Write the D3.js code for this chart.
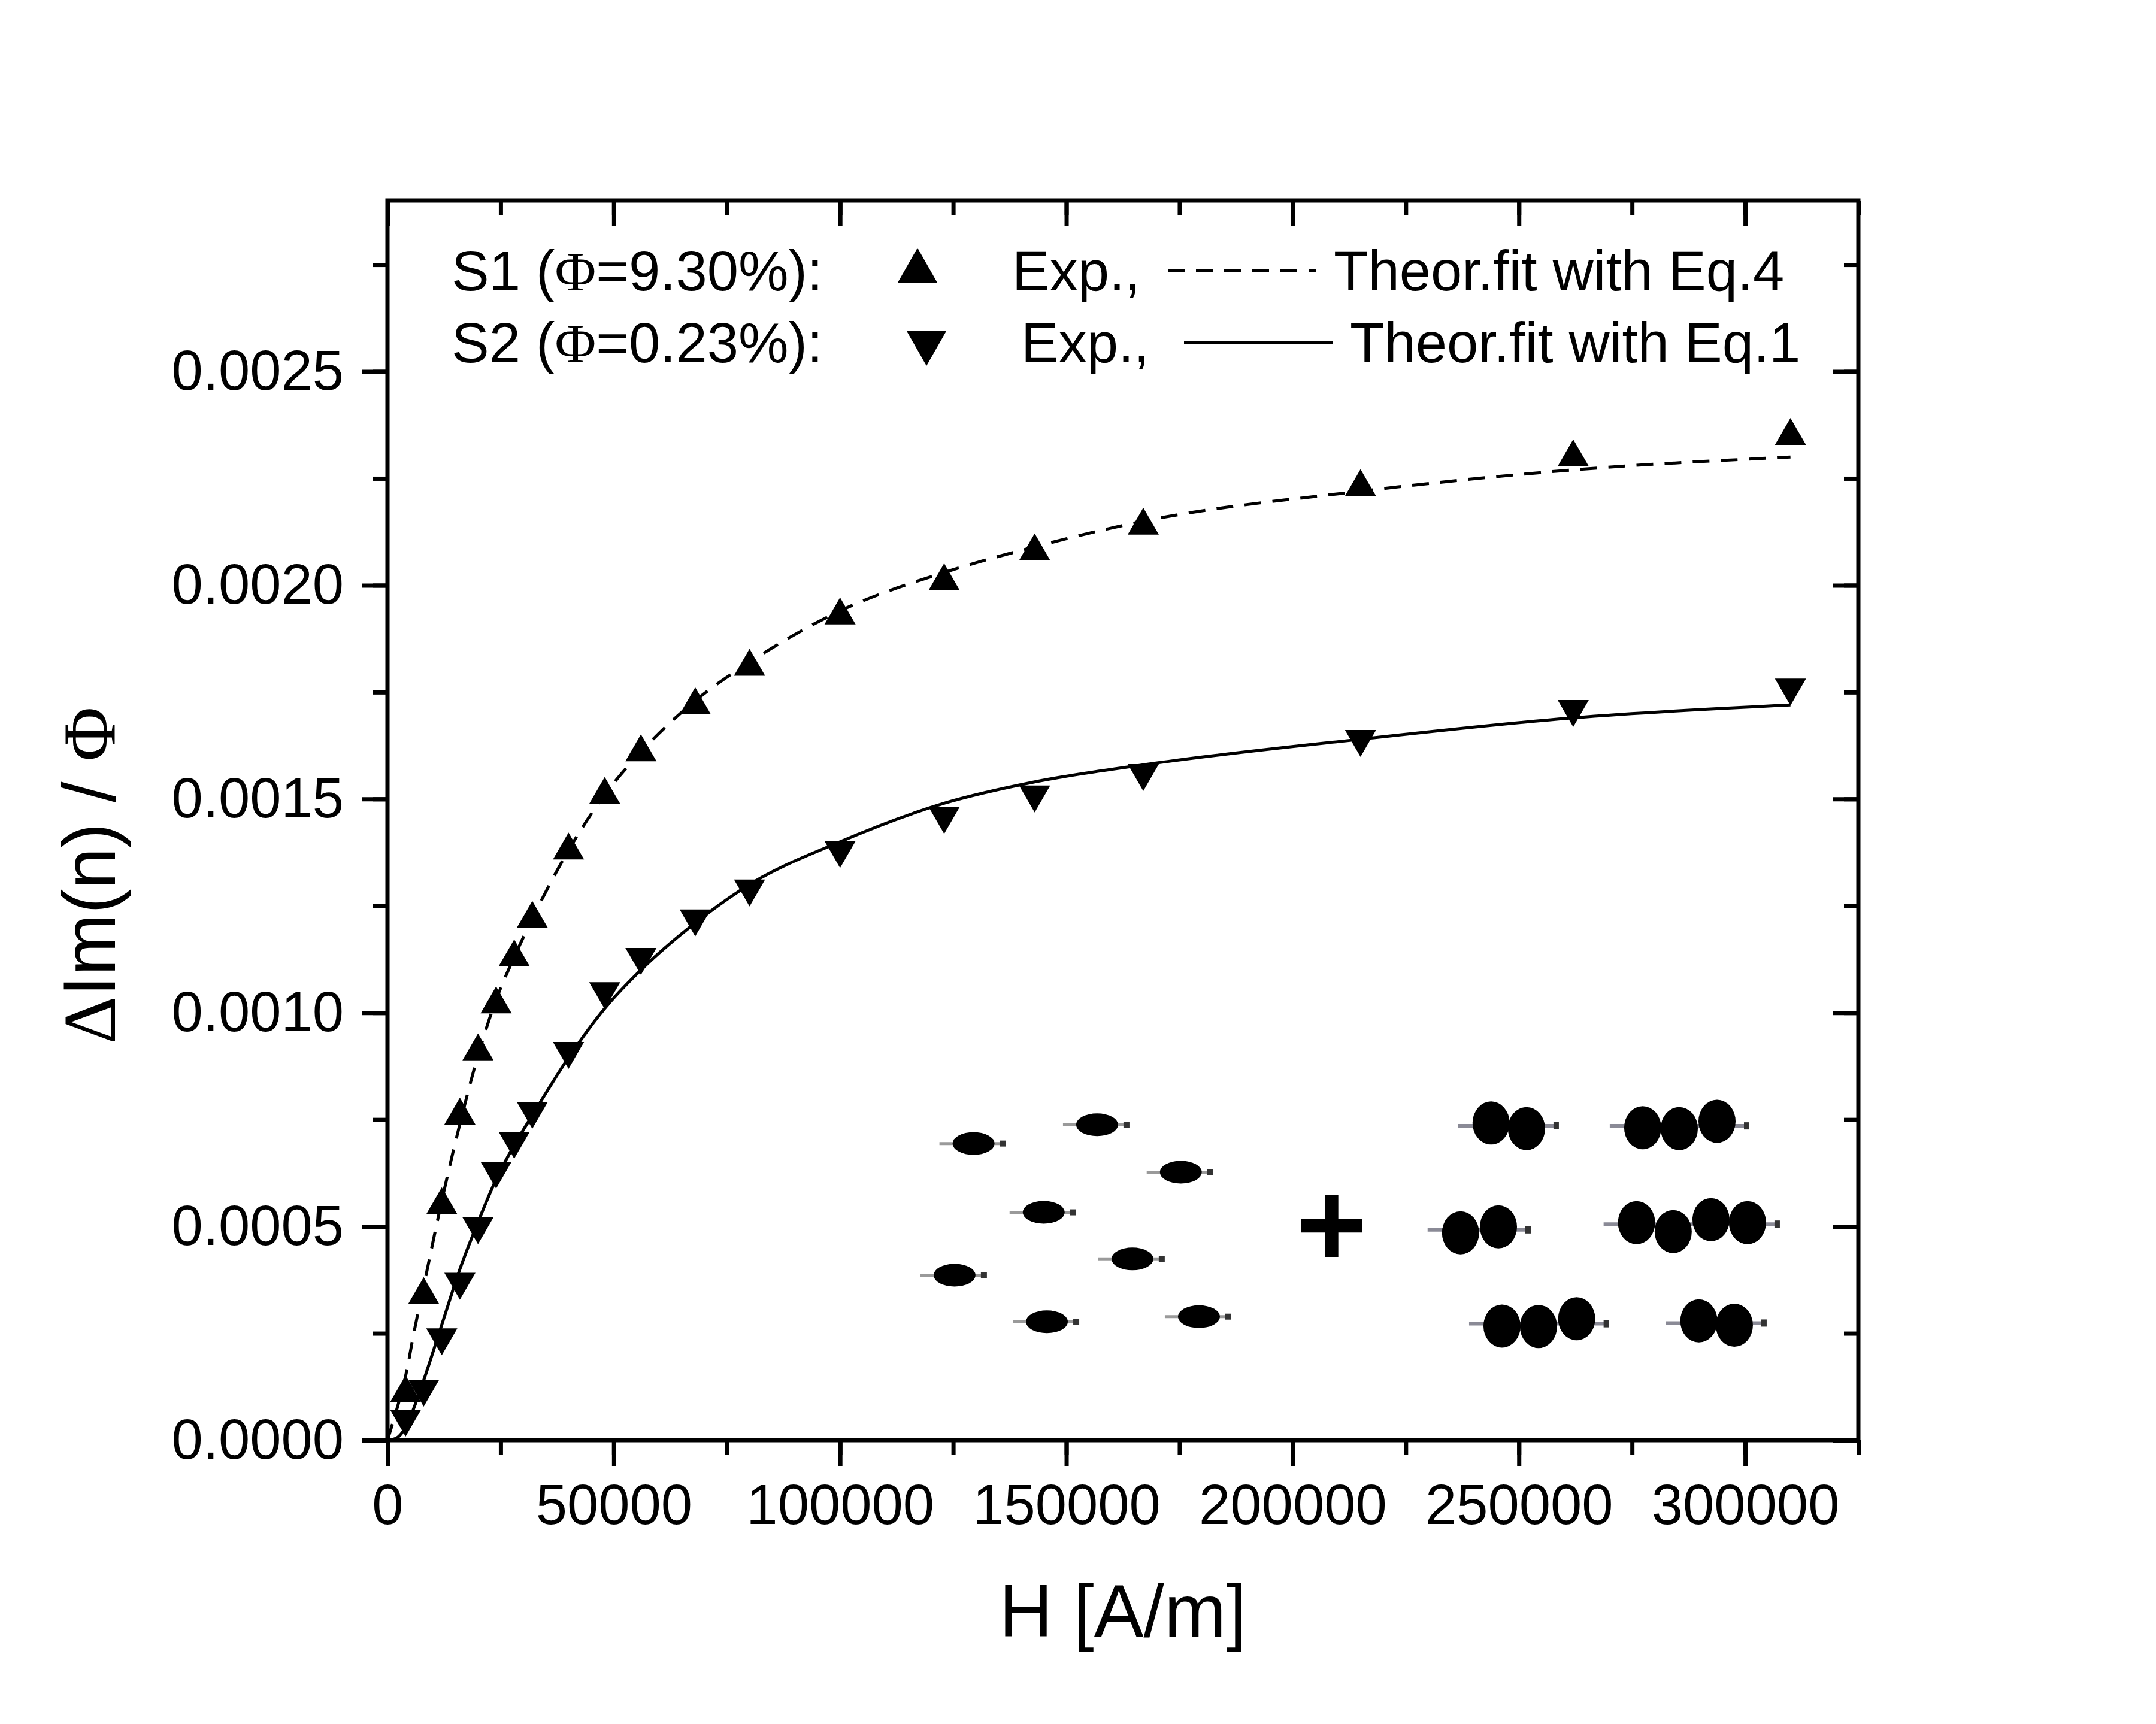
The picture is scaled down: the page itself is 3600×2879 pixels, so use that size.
<!doctype html>
<html>
<head>
<meta charset="utf-8">
<style>
body { margin:0; background:#fff; }
text { font-family:"Liberation Sans", Arial, sans-serif; fill:#000; }
.serif { font-family:"Liberation Serif", "Times New Roman", serif; }
</style>
<script src="https://d3js.org/d3.v7.min.js"></script>
</head>
<body>
<script>

// measured field H [A/m]
var fieldH = [4000, 8000, 12000, 16000, 20000, 24000, 28000, 32000, 40000, 48000,
              56000, 68000, 80000, 100000, 123000, 143000, 167000, 215000, 262000, 310000];

// S1 (phi = 9.30%) experimental
var s1Exp = [0.00012, 0.00035, 0.00056, 0.00077, 0.00092, 0.00103, 0.00114, 0.00123, 0.00139, 0.00152,
             0.00162, 0.00173, 0.00182, 0.00194, 0.00202, 0.00209, 0.00215, 0.00224, 0.00231, 0.00236];

// S2 (phi = 0.23%) experimental
var s2Exp = [0.00004, 0.00011, 0.00023, 0.00036, 0.00049, 0.00062, 0.00069, 0.00076, 0.00090, 0.00104,
             0.00112, 0.00121, 0.00128, 0.00137, 0.00145, 0.00150, 0.00155, 0.00163, 0.00170, 0.00175];

// fit curves
var s1FitH = [0, 2000, 4000, 6000, 8000, 12000, 16000, 20000, 24000, 28000, 32000,
              40000, 48000, 56000, 68000, 80000, 100000, 123000, 143000, 167000, 215000, 262000, 310000];
var s1FitY = [0, 0.00007, 0.00015, 0.00026, 0.00036, 0.00056, 0.00074, 0.00090, 0.00103, 0.00113, 0.00122,
              0.00138, 0.00151, 0.00161, 0.00173, 0.00182, 0.00194, 0.00203, 0.00209, 0.00215, 0.00222, 0.00227, 0.00230];

var s2FitH = [0, 2000, 4000, 6000, 8000, 12000, 16000, 20000, 24000, 28000, 32000, 40000,
              48000, 56000, 68000, 80000, 100000, 123000, 143000, 167000, 215000, 262000, 310000];
var s2FitY = [0, 0.000005, 0.00003, 0.00008, 0.00014, 0.00027, 0.00040, 0.00051, 0.00061, 0.00069, 0.00076, 0.000895,
              0.00101, 0.00110, 0.00121, 0.00130, 0.00140, 0.00149, 0.00154, 0.00158, 0.00164, 0.00169, 0.00172];

var xTicks = [0, 50000, 100000, 150000, 200000, 250000, 300000];
var yTicks = [0, 0.0005, 0.0010, 0.0015, 0.0020, 0.0025];

var legendNames = ["S1 (\u03A6=9.30%):", "S2 (\u03A6=0.23%):"];
var legendExp = ["Exp.,", "Exp.,"];
var legendFit = ["Theor.fit with Eq.4", "Theor.fit with Eq.1"];

// inset sketch: single particles and chains, placed in data units
var insetSingles = [[129500, 0.000694], [156800, 0.000738], [175300, 0.000627], [145000, 0.000533],
                    [164600, 0.000424], [125300, 0.000386], [145700, 0.000277], [179300, 0.000289]];
var insetChains = [
  [[243850, 0.000742], [251680, 0.000729]],
  [[277350, 0.000731], [285430, 0.000729], [293770, 0.000746]],
  [[237100, 0.000485], [245470, 0.000499]],
  [[275990, 0.000509], [284090, 0.000488], [292440, 0.000516], [300510, 0.000509]],
  [[246260, 0.000267], [254330, 0.000266], [262760, 0.000284]],
  [[289760, 0.000279], [297600, 0.000269]]
];
var insetPlus = [208600, 0.000506];

var width = 3600, height = 2879;
var plotLeft = 647, plotRight = 3103, plotTop = 335, plotBottom = 2405;

var svg = d3.select("body").append("svg")
    .attr("width", width)
    .attr("height", height);

var x = d3.scaleLinear().domain([0, 325000]).range([plotLeft, plotRight]);
var y = d3.scaleLinear().domain([0, 0.0029]).range([plotBottom, plotTop]);

var minorX = d3.range(0, 325001, 25000);
var minorY = d3.range(0, 0.00290001, 0.00025);

function styleAxis(g) {
  g.select(".domain").remove();
  g.selectAll(".tick line").attr("stroke", "#000").attr("stroke-width", 7);
  g.selectAll("text").attr("font-size", 94).attr("fill", "#000")
    .attr("font-family", "Liberation Sans, Arial, sans-serif");
}

// bottom axis
svg.append("g").attr("transform", "translate(0," + plotBottom + ")")
  .call(d3.axisBottom(x).tickValues(minorX).tickSize(24).tickFormat(""))
  .call(styleAxis);
svg.append("g").attr("transform", "translate(0," + plotBottom + ")")
  .call(d3.axisBottom(x).tickValues(xTicks).tickSize(43).tickPadding(30).tickFormat(d3.format("d")))
  .call(styleAxis);

// left axis
svg.append("g").attr("transform", "translate(" + plotLeft + ",0)")
  .call(d3.axisLeft(y).tickValues(minorY).tickSize(24).tickFormat(""))
  .call(styleAxis);
svg.append("g").attr("transform", "translate(" + plotLeft + ",0)")
  .call(d3.axisLeft(y).tickValues(yTicks).tickSize(43).tickPadding(30).tickFormat(d3.format(".4f")))
  .call(styleAxis);

// mirrored top / right ticks pointing inward
svg.append("g").attr("transform", "translate(0," + plotTop + ")")
  .call(d3.axisTop(x).tickValues(minorX).tickSize(-24).tickFormat(""))
  .call(styleAxis);
svg.append("g").attr("transform", "translate(0," + plotTop + ")")
  .call(d3.axisTop(x).tickValues(xTicks).tickSize(-43).tickFormat(""))
  .call(styleAxis);
svg.append("g").attr("transform", "translate(" + plotRight + ",0)")
  .call(d3.axisRight(y).tickValues(minorY).tickSize(-24).tickFormat(""))
  .call(styleAxis);
svg.append("g").attr("transform", "translate(" + plotRight + ",0)")
  .call(d3.axisRight(y).tickValues(yTicks).tickSize(-43).tickFormat(""))
  .call(styleAxis);

// frame
svg.append("rect")
  .attr("x", plotLeft).attr("y", plotTop)
  .attr("width", plotRight - plotLeft).attr("height", plotBottom - plotTop)
  .attr("fill", "none").attr("stroke", "#000").attr("stroke-width", 7);

// axis titles
svg.append("text")
  .attr("x", (plotLeft + plotRight) / 2).attr("y", 2733)
  .attr("text-anchor", "middle").attr("font-size", 124)
  .text("H [A/m]");

var yTitle = svg.append("text")
  .attr("transform", "translate(192,1462) rotate(-90)")
  .attr("text-anchor", "middle").attr("font-size", 124);
yTitle.append("tspan").attr("class", "serif").text("\u0394");
yTitle.append("tspan").text("Im(n) / ");
yTitle.append("tspan").attr("class", "serif").text("\u03A6");

// fit lines
var line = d3.line()
  .x(function(d) { return x(d[0]); })
  .y(function(d) { return y(d[1]); })
  .curve(d3.curveMonotoneX);

svg.append("path")
  .datum(d3.zip(s1FitH, s1FitY))
  .attr("d", line)
  .attr("fill", "none").attr("stroke", "#000")
  .attr("stroke-width", 5).attr("stroke-dasharray", "28,19");

svg.append("path")
  .datum(d3.zip(s2FitH, s2FitY))
  .attr("d", line)
  .attr("fill", "none").attr("stroke", "#000")
  .attr("stroke-width", 5);

// triangle markers, centred on their bounding box
function triangle(w, h, up) {
  var s = up ? 1 : -1;
  return "M0," + (-s * h / 2) + "L" + (w / 2) + "," + (s * h / 2) + "L" + (-w / 2) + "," + (s * h / 2) + "Z";
}

svg.append("g").selectAll("path")
  .data(d3.zip(fieldH, s1Exp))
  .enter().append("path")
  .attr("transform", function(d) { return "translate(" + x(d[0]) + "," + y(d[1]) + ")"; })
  .attr("d", triangle(52, 45, true))
  .attr("fill", "#000");

svg.append("g").selectAll("path")
  .data(d3.zip(fieldH, s2Exp))
  .enter().append("path")
  .attr("transform", function(d) { return "translate(" + x(d[0]) + "," + y(d[1]) + ")"; })
  .attr("d", triangle(52, 45, false))
  .attr("fill", "#000");

// legend
var rows = [485, 605];
var leg = svg.append("g");
legendNames.forEach(function(name, i) {
  var t = leg.append("text").attr("x", 754).attr("y", rows[i]).attr("font-size", 94);
  var parts = name.split("\u03A6");
  t.append("tspan").text(parts[0]);
  t.append("tspan").attr("class", "serif").text("\u03A6");
  t.append("tspan").text(parts[1]);
  leg.append("text").attr("x", i === 0 ? 1690 : 1705).attr("y", rows[i])
    .attr("font-size", 94).text(legendExp[i]);
  leg.append("text").attr("x", i === 0 ? 2227 : 2254).attr("y", rows[i])
    .attr("font-size", 94).text(legendFit[i]);
});
leg.append("path")
  .attr("transform", "translate(1532,443)")
  .attr("d", triangle(66, 58, true)).attr("fill", "#000");
leg.append("path")
  .attr("transform", "translate(1547,582)")
  .attr("d", triangle(66, 58, false)).attr("fill", "#000");
leg.append("line")
  .attr("x1", 1950).attr("x2", 2198).attr("y1", 452).attr("y2", 452)
  .attr("stroke", "#000").attr("stroke-width", 5).attr("stroke-dasharray", "28,19");
leg.append("line")
  .attr("x1", 1977).attr("x2", 2225).attr("y1", 572).attr("y2", 572)
  .attr("stroke", "#000").attr("stroke-width", 5);

// inset sketch
var inset = svg.append("g");

inset.selectAll("g.single")
  .data(insetSingles)
  .enter().append("g")
  .attr("class", "single")
  .attr("transform", function(d) { return "translate(" + x(d[0]) + "," + y(d[1]) + ")"; })
  .each(function() {
    var g = d3.select(this);
    g.append("line").attr("x1", -57).attr("x2", 48).attr("y1", 0).attr("y2", 0)
      .attr("stroke", "#9a9a9a").attr("stroke-width", 5);
    g.append("rect").attr("x", 44).attr("y", -5).attr("width", 10).attr("height", 10).attr("fill", "#333");
    g.append("ellipse").attr("rx", 35).attr("ry", 19).attr("fill", "#000");
  });

insetChains.forEach(function(chain) {
  var g = inset.append("g");
  var x0 = x(chain[0][0]) - 55, x1 = x(chain[chain.length - 1][0]) + 55;
  var yc = d3.mean(chain, function(d) { return y(d[1]); });
  g.append("line").attr("x1", x0).attr("x2", x1 - 8).attr("y1", yc).attr("y2", yc)
    .attr("stroke", "#8a8a96").attr("stroke-width", 6);
  g.append("rect").attr("x", x1 - 10).attr("y", yc - 6).attr("width", 9).attr("height", 12).attr("fill", "#333");
  g.selectAll("ellipse")
    .data(chain)
    .enter().append("ellipse")
    .attr("cx", function(d) { return x(d[0]); })
    .attr("cy", function(d) { return y(d[1]); })
    .attr("rx", 31).attr("ry", 36)
    .attr("fill", "#000");
});

inset.append("text")
  .attr("x", x(insetPlus[0])).attr("y", y(insetPlus[1]))
  .attr("text-anchor", "middle").attr("dominant-baseline", "central")
  .attr("font-size", 205).attr("font-weight", "bold")
  .text("+");

</script>
</body>
</html>
